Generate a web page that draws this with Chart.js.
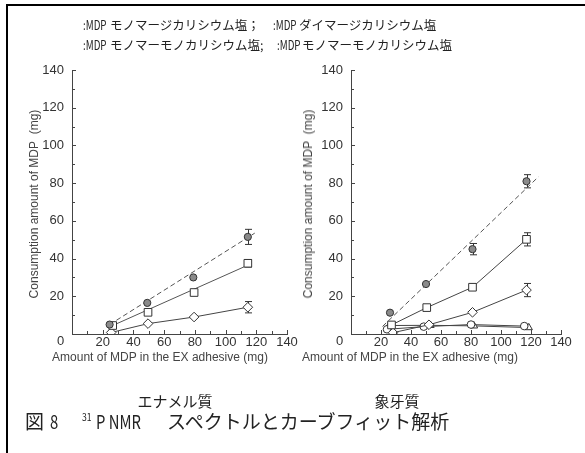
<!DOCTYPE html>
<html>
<head>
<meta charset="utf-8">
<script src="https://cdn.jsdelivr.net/npm/chart.js@4.4.0/dist/chart.umd.min.js"></script>
<style>
body { margin: 0; background: #fff; }
#wrap { position: relative; width: 585px; height: 453px; overflow: hidden; font-family: "Liberation Sans", Arial, sans-serif; color: #333; }
#wrap canvas { position: absolute; left: 0; top: 0; }
.frame { position: absolute; left: 6px; top: 4px; width: 600px; height: 460px; border-left: 2px solid #000; border-top: 2px solid #000; }
.t { position: absolute; white-space: nowrap; line-height: 16px; }
.jp { font-family: "Noto Sans CJK JP", sans-serif; color: #222; }
.lg { font-size: 12.5px; }
.narrow { display: inline-block; transform: scaleX(0.78); transform-origin: left center; }
.ax { font-size: 12px; color: #444; }
.yt { transform: translate(-50%, -50%) rotate(-90deg); }
.xt { transform: translateX(-50%); }
</style>
</head>
<body>
<div id="wrap">
  <div class="frame"></div>
  <canvas id="enamel" width="585" height="453"></canvas>
  <canvas id="dentin" width="585" height="453"></canvas>

  <div class="t jp lg" style="left:83px;top:17px;"><span class="narrow">:MDP</span></div>
  <div class="t jp lg" style="left:110px;top:17px;">モノマージカリシウム塩；</div>
  <div class="t jp lg" style="left:273px;top:17px;"><span class="narrow">:MDP</span></div>
  <div class="t jp lg" style="left:299px;top:17px;">ダイマージカリシウム塩</div>
  <div class="t jp lg" style="left:83px;top:37px;"><span class="narrow">:MDP</span></div>
  <div class="t jp lg" style="left:110px;top:37px;">モノマーモノカリシウム塩;</div>
  <div class="t jp lg" style="left:277px;top:37px;"><span class="narrow">:MDP</span></div>
  <div class="t jp lg" style="left:302px;top:37px;">モノマーモノカリシウム塩</div>

  <div class="t ax yt" style="left:34px;top:204px;">Consumption amount of MDP&nbsp;&nbsp;(mg)</div>
  <div class="t ax yt" style="left:308px;top:204px;">Consumption amount of MDP&nbsp;&nbsp;(mg)</div>
  <div class="t ax xt" style="left:160px;top:349px;">Amount of MDP in the EX adhesive (mg)</div>
  <div class="t ax xt" style="left:410px;top:349px;">Amount of MDP in the EX adhesive (mg)</div>
  <div class="t" style="left:57px;top:333px;font-size:13px;">0</div>
  <div class="t" style="left:336px;top:333px;font-size:13px;">0</div>

  <div class="t jp xt" style="left:175px;top:393px;font-size:15px;">エナメル質</div>
  <div class="t jp xt" style="left:397px;top:393px;font-size:15px;">象牙質</div>

  <div class="t jp" style="left:25px;top:411px;font-size:19px;line-height:20px;">図</div>
  <div class="t jp" style="left:50px;top:411px;font-size:19px;line-height:20px;"><span class="narrow">8</span></div>
  <div class="t jp" style="left:82px;top:410px;font-size:11px;line-height:12px;"><span class="narrow">31</span></div>
  <div class="t jp" style="left:96px;top:411px;font-size:19px;line-height:20px;"><span class="narrow">P&nbsp;NMR</span></div>
  <div class="t jp" style="left:167px;top:411px;font-size:19px;line-height:20px;">スペクトルとカーブフィット解析</div>
</div>

<script>
// x tick values on both charts
const xTicks = [20, 40, 60, 80, 100, 120, 140];

// エナメル質
const enamelCaX = [24.5, 49, 79, 114.5];
const enamelCaY = [5, 16.5, 30, 51.5];
const enamelCaErr = [0, 0, 0, 4];
const enamelCaFitX = [24.5, 119];
const enamelCaFitY = [5, 53.5];
const enamelSqX = [26.5, 49.5, 79.5, 114.5];
const enamelSqY = [4.5, 11.5, 22, 37.5];
const enamelSqErr = [0, 0, 0, 2];
const enamelSqFitX = [26.5, 114.5];
const enamelSqFitY = [4.5, 36.5];
const enamelDiX = [25.5, 49.5, 79.5, 114.5];
const enamelDiY = [0.8, 5.5, 9, 14.2];
const enamelDiErr = [0, 0, 0, 3];

// 象牙質
const dentinCaX = [26, 50, 81, 117];
const dentinCaY = [11.3, 26.5, 45, 81];
const dentinCaErr = [0, 0, 3, 3.5];
const dentinCaFitX = [21, 125];
const dentinCaFitY = [4, 83.4];
const dentinSqX = [27, 50.5, 81, 117];
const dentinSqY = [4.8, 14, 24.8, 50.2];
const dentinSqErr = [0, 0, 0, 3.5];
const dentinDiX = [28, 52, 81, 117];
const dentinDiY = [0.7, 4.9, 11.5, 23.3];
const dentinDiErr = [0, 0, 0, 3.5];
const dentinCiX = [24, 48.5, 80, 115.5];
const dentinCiY = [2.5, 3.9, 5, 4.2];
const dentinTrX = [25.5, 53, 82, 118.5];
const dentinTrY = [4.5, 4.6, 4.3, 3.4];

function pts(xs, ys) {
    return xs.map((x, i) => ({ x: x, y: ys[i] }));
}

function line(xs, ys, dashed) {
    return {
        data: pts(xs, ys),
        showLine: true,
        borderColor: '#555',
        borderWidth: 1,
        borderDash: dashed ? [5, 3] : [],
        pointRadius: 0,
        order: 2
    };
}

// marker sizes per point style
const markSize = { filled: 3.6, rect: 5.4, rectRot: 4.8, circle: 3.8, triangle: 4.2 };

function marks(xs, ys, style, errs, connect) {
    const filled = style === 'filled';
    return {
        data: pts(xs, ys),
        errors: errs || null,
        showLine: !!connect,
        borderColor: '#444',
        borderWidth: 1,
        pointStyle: filled ? 'circle' : style,
        pointRadius: markSize[style],
        pointBorderColor: '#333',
        pointBorderWidth: 1,
        pointBackgroundColor: filled ? '#8a8a8a' : '#fff',
        order: 1
    };
}

// error bars and inward tick marks
const extras = {
    id: 'extras',
    beforeDatasetsDraw(chart) {
        const { ctx, scales: { x, y } } = chart;
        ctx.save();
        ctx.strokeStyle = '#333';
        ctx.lineWidth = 1;
        chart.data.datasets.forEach(ds => {
            if (!ds.errors) return;
            ds.data.forEach((p, i) => {
                const e = ds.errors[i];
                if (!e) return;
                const px = Math.round(x.getPixelForValue(p.x)) + 0.5;
                const t = y.getPixelForValue(p.y + e);
                const b = y.getPixelForValue(p.y - e);
                ctx.beginPath();
                ctx.moveTo(px, t); ctx.lineTo(px, b);
                ctx.moveTo(px - 3.5, t); ctx.lineTo(px + 3.5, t);
                ctx.moveTo(px - 3.5, b); ctx.lineTo(px + 3.5, b);
                ctx.stroke();
            });
        });
        ctx.restore();
    },
    afterDraw(chart) {
        const { ctx, scales: { x, y } } = chart;
        ctx.save();
        ctx.strokeStyle = '#444';
        ctx.lineWidth = 1;
        ctx.beginPath();
        for (let v = 10; v <= 140; v += 10) {
            const px = Math.round(x.getPixelForValue(v)) + 0.5;
            ctx.moveTo(px, y.bottom); ctx.lineTo(px, y.bottom - (v % 20 ? 3 : 4));
            const py = Math.round(y.getPixelForValue(v)) + 0.5;
            ctx.moveTo(x.left, py); ctx.lineTo(x.left + (v % 20 ? 3 : 4), py);
        }
        ctx.stroke();
        ctx.restore();
    }
};

Chart.defaults.font.family = "'Liberation Sans', Arial, sans-serif";
Chart.defaults.font.size = 13;
Chart.defaults.color = '#333';

function makeChart(id, datasets, axisLeft, axisRight) {
    return new Chart(document.getElementById(id), {
        type: 'scatter',
        data: { datasets: datasets },
        options: {
            responsive: false,
            animation: false,
            layout: { padding: { left: 0, top: 70, right: 585 - axisRight, bottom: 453 - 334 - 20 } },
            plugins: { legend: { display: false }, tooltip: { enabled: false } },
            scales: {
                x: {
                    type: 'linear', min: 0, max: 140,
                    afterBuildTicks: s => { s.ticks = xTicks.map(v => ({ value: v })); },
                    ticks: { padding: 1, maxRotation: 0, autoSkip: false },
                    grid: { display: false, drawTicks: false },
                    border: { color: '#444' },
                    afterFit: s => { s.height = 20; }
                },
                y: {
                    type: 'linear', min: 0, max: 140,
                    afterBuildTicks: s => { s.ticks = xTicks.map(v => ({ value: v })); },
                    ticks: { padding: 8 },
                    grid: { display: false, drawTicks: false },
                    border: { color: '#444' },
                    afterFit: s => { s.width = axisLeft; }
                }
            }
        },
        plugins: [extras]
    });
}

makeChart('enamel', [
    line(enamelCaFitX, enamelCaFitY, true),
    line(enamelSqFitX, enamelSqFitY, false),
    marks(enamelCaX, enamelCaY, 'filled', enamelCaErr, false),
    marks(enamelSqX, enamelSqY, 'rect', enamelSqErr, false),
    marks(enamelDiX, enamelDiY, 'rectRot', enamelDiErr, true)
], 72, 287);

makeChart('dentin', [
    line(dentinCaFitX, dentinCaFitY, true),
    marks(dentinCaX, dentinCaY, 'filled', dentinCaErr, false),
    marks(dentinSqX, dentinSqY, 'rect', dentinSqErr, true),
    marks(dentinDiX, dentinDiY, 'rectRot', dentinDiErr, true),
    marks(dentinCiX, dentinCiY, 'circle', null, true),
    marks(dentinTrX, dentinTrY, 'triangle', null, true)
], 351, 561);
</script>
</body>
</html>
